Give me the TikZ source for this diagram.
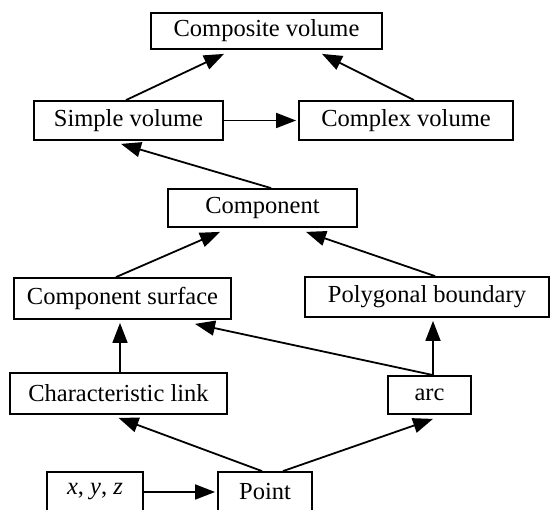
\documentclass[tikz,border=0pt]{standalone}
\usepackage{fontspec}
\setmainfont{Liberation Serif}
\usetikzlibrary{arrows.meta}

\begin{document}
\begin{tikzpicture}[x=1pt, y=-1pt,
  box/.style={draw, line width=1.8pt, inner sep=0pt, align=center,
    font=\fontsize{24.5}{28}\selectfont},
  link/.style={line width=1.8pt, -{Triangle[length=20pt, width=15pt]}}]

  % page frame
  \useasboundingbox (0,0) rectangle (550,510);

  % boxes
  \node[box, minimum width=231pt, minimum height=36pt] (cv)    at (266.5,31)    {Composite volume};
  \node[box, minimum width=189pt, minimum height=39pt] (sv)    at (128.5,120.5) {Simple volume};
  \node[box, minimum width=214pt, minimum height=39pt] (xv)    at (406,120.5)   {Complex volume};
  \node[box, minimum width=189pt, minimum height=38pt] (comp)  at (262.5,208)   {Component};
  \node[box, minimum width=217pt, minimum height=41pt] (csurf) at (122.5,298.5) {Component surface};
  \node[box, minimum width=244pt, minimum height=40pt] (poly)  at (427,297)     {Polygonal boundary};
  \node[box, minimum width=217pt, minimum height=41pt] (clink) at (118.5,393.5) {Characteristic link};
  \node[box, minimum width=83pt,  minimum height=38pt] (arc)   at (429.5,395)   {arc};
  \node[box, minimum width=96pt,  minimum height=40pt] (xyz)   at (95,492)      {\textit{x}, \textit{y}, \textit{z}};
  \node[box, minimum width=94pt,  minimum height=40pt] (pt)    at (265,492)     {Point};

  % connectors
  \draw[link] ([xshift=-2.5pt]sv.north) -- ([xshift=-42.5pt, yshift=-4pt]cv.south);
  \draw[link] ([xshift=8pt]xv.north) -- ([xshift=55.5pt, yshift=-4pt]cv.south);
  \draw[link] (sv.east) -- ([xshift=-2pt]xv.west);
  \draw[link] ([xshift=8.5pt]comp.north) -- ([xshift=-7.5pt, yshift=-3pt]sv.south);
  \draw[link] ([xshift=-6.5pt]csurf.north) -- ([xshift=-42.5pt, yshift=-4pt]comp.south);
  \draw[link] ([xshift=8pt]poly.north) -- ([xshift=43.5pt, yshift=-4pt]comp.south);
  \draw[link] ([xshift=1.5pt]clink.north) -- ([xshift=-2.5pt, yshift=-3pt]csurf.south);
  \draw[link] ([xshift=3.5pt]arc.north) -- ([xshift=72.5pt, yshift=-4pt]csurf.south);
  \draw[link] ([xshift=3.5pt]arc.north) -- ([xshift=6pt, yshift=-3pt]poly.south);
  \draw[link] ([xshift=-3pt]pt.north) -- ([yshift=-3pt]clink.south);
  \draw[link] ([xshift=18pt]pt.north) -- ([xshift=3.5pt, yshift=-4pt]arc.south);
  \draw[link] (xyz.east) -- ([xshift=-2pt]pt.west);
\end{tikzpicture}
\end{document}
